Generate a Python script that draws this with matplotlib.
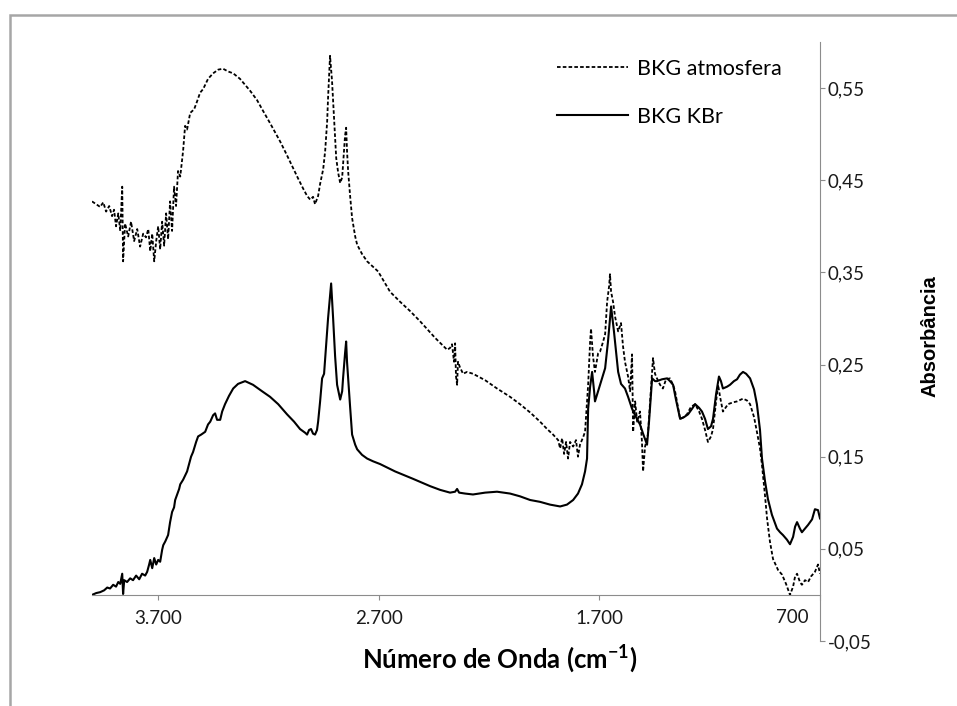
import matplotlib.pyplot as plt
from matplotlib.patches import Rectangle

plt.rcParams['font.family'] = ['Lato', 'DejaVu Sans']
plt.rcParams['mathtext.fontset'] = 'custom'
plt.rcParams['mathtext.bf'] = 'Lato:bold'

# espectros de fundo (numero de onda em cm-1, absorbancia)
wn_atm = [4000, 3981, 3963, 3949, 3936, 3922, 3909, 3900, 3891, 3881, 3872, 3863, 3859, 3850,
          3836, 3823, 3809, 3795, 3782, 3768, 3755, 3745, 3736, 3727, 3718, 3709, 3700, 3691,
          3682, 3673, 3664, 3655, 3646, 3637, 3628, 3619, 3610, 3600, 3587, 3578, 3569, 3555,
          3537, 3523, 3510, 3496, 3474, 3451, 3428, 3406, 3383, 3360, 3329, 3283, 3252, 3224,
          3193, 3147, 3116, 3088, 3066, 3043, 3025, 3011, 2998, 2989, 2975, 2966, 2952, 2943,
          2934, 2930, 2921, 2912, 2907, 2898, 2893, 2884, 2875, 2866, 2862, 2853, 2848, 2844,
          2839, 2830, 2821, 2807, 2798, 2776, 2753, 2730, 2703, 2649, 2603, 2558, 2513, 2445,
          2390, 2377, 2368, 2359, 2354, 2350, 2345, 2341, 2332, 2318, 2300, 2273, 2218, 2164,
          2105, 2060, 2014, 1969, 1937, 1910, 1887, 1878, 1869, 1860, 1851, 1842, 1833, 1819,
          1806, 1797, 1788, 1774, 1765, 1756, 1751, 1742, 1738, 1729, 1720, 1706, 1697, 1683,
          1674, 1665, 1656, 1652, 1647, 1638, 1629, 1615, 1602, 1593, 1584, 1570, 1561, 1552,
          1547, 1538, 1529, 1516, 1507, 1502, 1493, 1480, 1470, 1461, 1457, 1448, 1439, 1425,
          1412, 1398, 1380, 1366, 1357, 1344, 1334, 1316, 1303, 1285, 1266, 1248, 1235, 1221,
          1208, 1194, 1185, 1171, 1162, 1153, 1140, 1126, 1117, 1094, 1076, 1049, 1031, 1017,
          999, 986, 972, 963, 949, 940, 927, 913, 890, 872, 854, 836, 822, 813, 804, 791, 782,
          768, 754, 741, 723, 709, 700]
abs_atm = [0.427, 0.424, 0.421, 0.426, 0.416, 0.422, 0.411, 0.418, 0.400, 0.414, 0.395, 0.443,
           0.362, 0.403, 0.389, 0.405, 0.384, 0.397, 0.378, 0.392, 0.388, 0.397, 0.373, 0.392,
           0.362, 0.384, 0.400, 0.375, 0.405, 0.379, 0.414, 0.386, 0.427, 0.395, 0.443, 0.422,
           0.460, 0.454, 0.482, 0.509, 0.505, 0.523, 0.527, 0.536, 0.545, 0.549, 0.560, 0.566,
           0.570, 0.571, 0.568, 0.566, 0.560, 0.547, 0.537, 0.525, 0.512, 0.492, 0.477, 0.463,
           0.452, 0.441, 0.433, 0.429, 0.432, 0.424, 0.433, 0.446, 0.462, 0.482, 0.514, 0.539,
           0.585, 0.558, 0.536, 0.498, 0.474, 0.458, 0.447, 0.453, 0.467, 0.498, 0.507, 0.482,
           0.460, 0.433, 0.409, 0.389, 0.380, 0.370, 0.362, 0.357, 0.351, 0.329, 0.318, 0.308,
           0.297, 0.279, 0.266, 0.268, 0.272, 0.253, 0.273, 0.237, 0.228, 0.253, 0.247, 0.240,
           0.242, 0.240, 0.233, 0.224, 0.215, 0.207, 0.198, 0.188, 0.180, 0.174, 0.168, 0.159,
           0.170, 0.153, 0.166, 0.148, 0.166, 0.161, 0.168, 0.150, 0.163, 0.171, 0.177, 0.210,
           0.228, 0.275, 0.289, 0.259, 0.242, 0.262, 0.264, 0.275, 0.283, 0.318, 0.335, 0.348,
           0.329, 0.318, 0.302, 0.286, 0.295, 0.270, 0.253, 0.237, 0.221, 0.261, 0.177, 0.210,
           0.188, 0.199, 0.166, 0.134, 0.161, 0.174, 0.210, 0.242, 0.257, 0.240, 0.235, 0.228,
           0.224, 0.234, 0.235, 0.228, 0.221, 0.204, 0.191, 0.193, 0.196, 0.204, 0.207, 0.199,
           0.191, 0.179, 0.166, 0.172, 0.180, 0.210, 0.228, 0.215, 0.199, 0.204, 0.207, 0.209,
           0.210, 0.213, 0.211, 0.207, 0.193, 0.177, 0.159, 0.141, 0.107, 0.083, 0.058, 0.039,
           0.027, 0.022, 0.012, 0.000, 0.009, 0.020, 0.023, 0.014, 0.011, 0.016, 0.014, 0.020,
           0.025, 0.033, 0.023]

wn_kbr = [4000, 3981, 3963, 3945, 3931, 3918, 3904, 3891, 3881, 3872, 3863, 3859, 3854, 3841,
          3827, 3814, 3800, 3786, 3773, 3759, 3750, 3741, 3736, 3727, 3718, 3709, 3700, 3691,
          3682, 3677, 3668, 3659, 3655, 3646, 3637, 3628, 3623, 3614, 3605, 3600, 3587, 3569,
          3560, 3551, 3542, 3528, 3519, 3505, 3487, 3474, 3464, 3451, 3442, 3433, 3419, 3410,
          3397, 3379, 3360, 3338, 3306, 3288, 3270, 3247, 3229, 3193, 3156, 3116, 3084, 3057,
          3034, 3025, 3016, 3007, 2998, 2989, 2980, 2975, 2966, 2957, 2948, 2939, 2930, 2916,
          2907, 2898, 2889, 2875, 2866, 2862, 2853, 2848, 2844, 2839, 2830, 2821, 2807, 2798,
          2776, 2753, 2726, 2694, 2626, 2545, 2467, 2422, 2377, 2354, 2345, 2336, 2309, 2273,
          2218, 2164, 2105, 2060, 2014, 1969, 1924, 1878, 1847, 1819, 1797, 1779, 1765, 1756,
          1751, 1742, 1733, 1724, 1720, 1706, 1697, 1674, 1661, 1647, 1634, 1615, 1602, 1584,
          1570, 1552, 1534, 1516, 1502, 1484, 1475, 1461, 1448, 1439, 1416, 1393, 1380, 1366,
          1353, 1334, 1316, 1298, 1280, 1266, 1248, 1235, 1221, 1208, 1194, 1185, 1171, 1158,
          1149, 1140, 1121, 1108, 1090, 1076, 1063, 1049, 1035, 1017, 999, 986, 972, 963, 949,
          936, 918, 895, 881, 868, 850, 836, 822, 813, 804, 791, 782, 768, 754, 736, 723, 709,
          700]
abs_kbr = [0.000, 0.002, 0.003, 0.005, 0.008, 0.007, 0.011, 0.009, 0.014, 0.012, 0.023, 0.001,
           0.016, 0.014, 0.018, 0.016, 0.021, 0.017, 0.023, 0.021, 0.025, 0.033, 0.038, 0.029,
           0.040, 0.033, 0.038, 0.036, 0.049, 0.054, 0.058, 0.063, 0.065, 0.079, 0.090, 0.095,
           0.103, 0.109, 0.115, 0.120, 0.125, 0.134, 0.142, 0.150, 0.155, 0.166, 0.172, 0.174,
           0.177, 0.185, 0.188, 0.195, 0.197, 0.190, 0.190, 0.199, 0.207, 0.216, 0.224, 0.229,
           0.232, 0.230, 0.228, 0.224, 0.221, 0.215, 0.207, 0.196, 0.188, 0.180, 0.176, 0.174,
           0.179, 0.180, 0.175, 0.174, 0.179, 0.188, 0.210, 0.235, 0.240, 0.270, 0.300, 0.338,
           0.300, 0.259, 0.228, 0.212, 0.221, 0.235, 0.262, 0.275, 0.253, 0.235, 0.204, 0.174,
           0.163, 0.158, 0.152, 0.148, 0.145, 0.142, 0.134, 0.126, 0.118, 0.114, 0.111, 0.112,
           0.115, 0.111, 0.110, 0.109, 0.111, 0.112, 0.110, 0.107, 0.103, 0.101, 0.098, 0.096,
           0.098, 0.103, 0.110, 0.120, 0.134, 0.148, 0.202, 0.226, 0.242, 0.221, 0.210, 0.221,
           0.228, 0.246, 0.275, 0.313, 0.286, 0.242, 0.229, 0.224, 0.215, 0.202, 0.193, 0.185,
           0.175, 0.163, 0.188, 0.235, 0.232, 0.232, 0.234, 0.235, 0.232, 0.228, 0.212, 0.191,
           0.193, 0.196, 0.202, 0.207, 0.203, 0.199, 0.191, 0.180, 0.183, 0.191, 0.218, 0.237,
           0.232, 0.224, 0.226, 0.228, 0.232, 0.234, 0.239, 0.242, 0.240, 0.235, 0.223, 0.207,
           0.179, 0.148, 0.123, 0.104, 0.087, 0.072, 0.068, 0.065, 0.060, 0.055, 0.063, 0.074,
           0.079, 0.072, 0.068, 0.072, 0.076, 0.082, 0.093, 0.092, 0.083]

x_ticks = [3700, 2700, 1700, 700]
y_ticks = [-0.05, 0.05, 0.15, 0.25, 0.35, 0.45, 0.55]

fig = plt.figure(figsize=(9.57, 7.06), dpi=100)
ax = fig.add_axes([92 / 957, 65 / 706, 728 / 957, 599 / 706])

ax.plot(wn_atm, abs_atm, color='black', lw=1.3, linestyle=(0, (2.0, 1.2)), label='BKG atmosfera')
ax.plot(wn_kbr, abs_kbr, color='black', lw=1.5, label='BKG KBr')

ax.set_xlim(4000, 700)
ax.set_ylim(-0.05, 0.6)

axis_grey = '#8c8c8c'
text_col = '#1a1a1a'
for s in ['top', 'left']:
    ax.spines[s].set_visible(False)
ax.spines['bottom'].set_position(('data', 0))
ax.spines['bottom'].set_color(axis_grey)
ax.spines['right'].set_color(axis_grey)

ax.yaxis.tick_right()
ax.set_yticks(y_ticks)
ax.set_yticklabels([f'{v:.2f}'.replace('.', ',') for v in y_ticks])
ax.tick_params(axis='y', direction='out', length=3.6, color=axis_grey, pad=2,
               labelsize=13.5, labelcolor=text_col)

ax.set_xticks(x_ticks)
ax.set_xticklabels([f'{v:,}'.replace(',', '.') if v != 700 else '' for v in x_ticks])
ax.tick_params(axis='x', direction='out', length=3.6, color=axis_grey, pad=7,
               labelsize=13.5, labelcolor=text_col)
# ultimo rotulo encostado no eixo vertical
ax.annotate('700', xy=(700, 0), xytext=(-11, -14), textcoords='offset pixels',
            ha='right', va='top', fontsize=13.5, color=text_col)

fig.text(500 / 957, 1 - 659 / 706, r'Número de Onda (cm$^{\mathbf{-1}}$)', ha='center',
         va='center', fontsize=18.5, fontweight='bold')
fig.text(930 / 957, 1 - 336 / 706, 'Absorbância', rotation=90, ha='center', va='center',
         fontsize=14.5, fontweight='bold', family=['Liberation Sans Narrow', 'Liberation Sans'])

ax.legend(loc='upper left', bbox_to_anchor=(557 / 957, 1 - 59 / 706),
          bbox_transform=fig.transFigure, frameon=False, fontsize=15.5,
          handlelength=3.3, handletextpad=0.4, labelspacing=1.3, borderpad=0,
          borderaxespad=0)

fig.add_artist(Rectangle((10 / 957, -0.1), 1.2, (706 - 15) / 706 + 0.1,
                         transform=fig.transFigure, fill=False, ec='#a6a6a6', lw=1.8))

fig.savefig('out.png', dpi=100)
